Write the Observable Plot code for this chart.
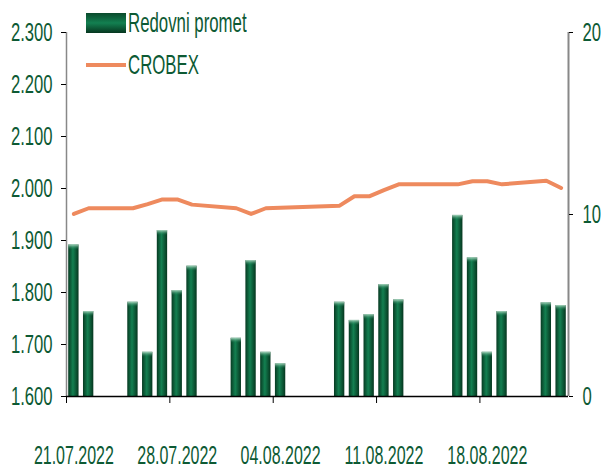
<!DOCTYPE html>
<html>
<head>
<meta charset="utf-8">
<script src="https://cdn.jsdelivr.net/npm/d3@7"></script>
<script src="https://cdn.jsdelivr.net/npm/@observablehq/plot@0.6"></script>
<style>
  html, body { margin: 0; padding: 0; background: #fff; }
  #wrap { position: relative; width: 602px; height: 471px; font-family: "Liberation Sans", Arial, sans-serif; }
  .leg { position: absolute; left: 86px; display: flex; align-items: center; color: #0d5a34; font-size: 28px; line-height: 28px; white-space: nowrap; }
  .leg span { display: inline-block; transform: scaleX(0.6); transform-origin: left center; }
  .sw { width: 40px; margin-right: 2px; flex: none; }
</style>
</head>
<body>
<div id="wrap"></div>
<script>
// Trading days
const dates = ["2022-07-21","2022-07-22","2022-07-25","2022-07-26","2022-07-27","2022-07-28","2022-07-29",
  "2022-08-01","2022-08-02","2022-08-03","2022-08-04",
  "2022-08-08","2022-08-09","2022-08-10","2022-08-11","2022-08-12",
  "2022-08-16","2022-08-17","2022-08-18","2022-08-19",
  "2022-08-22","2022-08-23"];
// Redovni promet (right axis, 0-20)
const promet = [8.33,4.67,5.18,2.43,9.12,5.82,7.16,
  3.2,7.47,2.43,1.8,
  5.18,4.18,4.5,6.15,5.31,
  9.95,7.62,2.43,4.67,
  5.15,5.0];
// CROBEX (left axis)
const crobex = [1951,1962,1962,1970,1979,1979,1969,
  1962,1951,1962,1963,
  1967,1985,1985,1997,2008,
  2008,2014,2014,2008,
  2015,2001];
const leftTicks = [1600,1700,1800,1900,2000,2100,2200,2300];
const rightTicks = [0,10,20];
const tickDates = ["2022-07-21","2022-07-28","2022-08-04","2022-08-11","2022-08-18"];
const xDomain = ["2022-07-21","2022-08-24"];
const legendLabels = ["Redovni promet","CROBEX"];

const DAY = 864e5;
const textColor = "#0d5a34";
const lineColor = "#ee8a5e";
const toLeft = v => 1600 + v * 35;
const rows = dates.map((d, i) => ({date: new Date(d), promet: promet[i], crobex: crobex[i]}));

const chart = Plot.plot({
  width: 602, height: 471,
  marginLeft: 66, marginRight: 34, marginTop: 32, marginBottom: 75,
  style: {fontFamily: '"Liberation Sans", Arial, sans-serif', fontSize: "26px", background: "#fff"},
  x: {type: "utc", domain: xDomain.map(d => new Date(d))},
  y: {domain: [1600, 2300]},
  marks: [
    Plot.rectY(rows, {
      x1: d => new Date(+d.date + 0.15 * DAY),
      x2: d => new Date(+d.date + 0.85 * DAY),
      y1: 1600, y2: d => toLeft(d.promet),
      fill: "url(#barGrad)"
    }),
    Plot.rectY(rows, {
      x1: d => new Date(+d.date + 0.15 * DAY),
      x2: d => new Date(+d.date + 0.85 * DAY),
      y1: d => toLeft(d.promet) - 10, y2: d => toLeft(d.promet),
      fill: "url(#topGrad)"
    }),
    Plot.line(rows, {x: d => new Date(+d.date + DAY / 2), y: "crobex", stroke: lineColor, strokeWidth: 4}),
    Plot.ruleX([new Date(xDomain[0])], {stroke: "#888", strokeWidth: 1.5}),
    Plot.ruleX([new Date(xDomain[1])], {stroke: "#888", strokeWidth: 2}),
    Plot.axisY(leftTicks, {anchor: "left", tickSize: 5, tickPadding: 9, stroke: "#000", fill: textColor,
      tickFormat: v => (v / 1000).toFixed(3), label: null}),
    Plot.axisY(rightTicks.map(toLeft), {anchor: "right", tickSize: 4, tickPadding: 10, stroke: "#000", fill: textColor,
      tickFormat: v => String(Math.round((v - 1600) / 35)), label: null}),
    Plot.ruleY([1600], {stroke: "#000", strokeWidth: 1.5}),
    Plot.axisX(tickDates.map(d => new Date(d)), {anchor: "bottom", tickSize: 7, stroke: "#000", tickFormat: () => "", label: null}),
    Plot.axisX(tickDates.map(d => new Date(+new Date(d) + DAY / 2)), {anchor: "bottom", tickSize: 0, tickPadding: 50,
      fill: textColor, fontSize: 25, tickFormat: d3.utcFormat("%d.%m.%Y"), label: null})
  ]
});

const svg = d3.select(chart);
const defs = svg.insert("defs", ":first-child");
const grad = defs.append("linearGradient")
  .attr("id", "barGrad").attr("x1", "0").attr("x2", "1").attr("y1", "0").attr("y2", "0");
grad.append("stop").attr("offset", "0%").attr("stop-color", "#073a22");
grad.append("stop").attr("offset", "45%").attr("stop-color", "#138051");
grad.append("stop").attr("offset", "100%").attr("stop-color", "#06361f");
const tg = defs.append("linearGradient")
  .attr("id", "topGrad").attr("x1", "0").attr("x2", "0").attr("y1", "0").attr("y2", "1");
tg.append("stop").attr("offset", "0%").attr("stop-color", "#bfe3cf").attr("stop-opacity", 0.9);
tg.append("stop").attr("offset", "100%").attr("stop-color", "#138051").attr("stop-opacity", 0);

const wrap = document.getElementById("wrap");
wrap.appendChild(chart);

// Condense the axis texts horizontally (the reference uses a narrow typeface)
chart.querySelectorAll("text").forEach(t => {
  const tr = t.getAttribute("transform") || "";
  t.setAttribute("transform", (tr + " scale(0.64,1)").trim());
});

// Legend (HTML, positioned over the chart)
const l1 = document.createElement("div");
l1.className = "leg"; l1.style.top = "9px";
l1.innerHTML = `<div class="sw" style="height:20px;background:linear-gradient(#0a4a2c,#138051 50%,#06361f)"></div><span>${legendLabels[0]}</span>`;
const l2 = document.createElement("div");
l2.className = "leg"; l2.style.top = "51px";
l2.innerHTML = `<div class="sw" style="height:4px;background:${lineColor}"></div><span>${legendLabels[1]}</span>`;
wrap.appendChild(l1); wrap.appendChild(l2);
</script>
</body>
</html>
